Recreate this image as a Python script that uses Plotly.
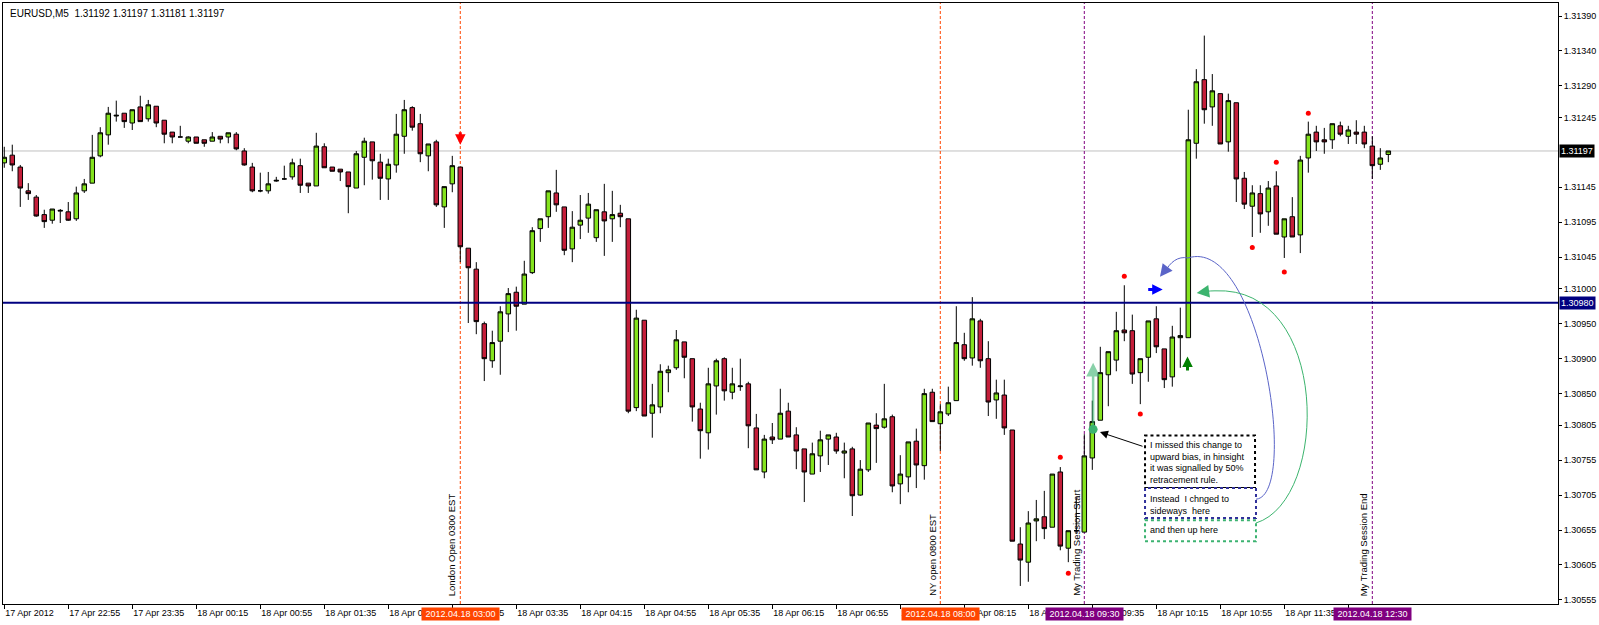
import plotly.graph_objects as go

# EURUSD M5 bars, 17 Apr 2012 22:15 -> 18 Apr 2012 12:40 (one bar per 5 minutes)
bar_open = [
    1.31180, 1.31191, 1.31174, 1.31140, 1.31131, 1.31106, 1.31098, 1.31111, 1.31110, 1.31100,
    1.31140, 1.31151, 1.31190, 1.31220, 1.31247, 1.31251, 1.31237, 1.31260, 1.31243, 1.31261,
    1.31241, 1.31224, 1.31217, 1.31211, 1.31217, 1.31213, 1.31211, 1.31218, 1.31217, 1.31221,
    1.31197, 1.31174, 1.31140, 1.31140, 1.31154, 1.31157, 1.31160, 1.31176, 1.31151, 1.31147,
    1.31203, 1.31174, 1.31171, 1.31167, 1.31144, 1.31188, 1.31210, 1.31181, 1.31157, 1.31177,
    1.31218, 1.31259, 1.31236, 1.31190, 1.31210, 1.31117, 1.31150, 1.31174, 1.31058, 1.31028,
    1.30950, 1.30897, 1.30925, 1.30964, 1.30995, 1.30978, 1.31023, 1.31086, 1.31103, 1.31137,
    1.31117, 1.31057, 1.31091, 1.31101, 1.31073, 1.31110, 1.31100, 1.31108, 1.31100, 1.30830,
    1.30955, 1.30822, 1.30831, 1.30880, 1.30887, 1.30924, 1.30900, 1.30828, 1.30794, 1.30861,
    1.30900, 1.30852, 1.30860, 1.30864, 1.30801, 1.30738, 1.30788, 1.30785, 1.30825, 1.30791,
    1.30771, 1.30735, 1.30761, 1.30785, 1.30788, 1.30765, 1.30771, 1.30705, 1.30741, 1.30805,
    1.30802, 1.30817, 1.30721, 1.30731, 1.30782, 1.30747, 1.30852, 1.30807, 1.30821, 1.30840,
    1.30920, 1.30901, 1.30954, 1.30900, 1.30841, 1.30848, 1.30798, 1.30635, 1.30609, 1.30668,
    1.30674, 1.30659, 1.30738, 1.30629, 1.30654, 1.30652, 1.30758, 1.30812, 1.30877, 1.30898,
    1.30941, 1.30940, 1.30880, 1.30902, 1.30957, 1.30914, 1.30874, 1.30930, 1.30930, 1.31208,
    1.31299, 1.31260, 1.31279, 1.31210, 1.31266, 1.31158, 1.31118, 1.31136, 1.31110, 1.31147,
    1.31074, 1.31103, 1.31077, 1.31187, 1.31224, 1.31213, 1.31213, 1.31233, 1.31218, 1.31224,
    1.31224, 1.31204, 1.31178, 1.31192,
]
bar_high = [
    1.31203, 1.31206, 1.31177, 1.31151, 1.31134, 1.31113, 1.31114, 1.31114, 1.31124, 1.31146,
    1.31157, 1.31220, 1.31231, 1.31260, 1.31269, 1.31251, 1.31256, 1.31276, 1.31270, 1.31261,
    1.31241, 1.31224, 1.31233, 1.31218, 1.31217, 1.31213, 1.31224, 1.31218, 1.31223, 1.31224,
    1.31201, 1.31180, 1.31166, 1.31167, 1.31160, 1.31176, 1.31186, 1.31186, 1.31151, 1.31223,
    1.31208, 1.31174, 1.31171, 1.31167, 1.31197, 1.31216, 1.31210, 1.31193, 1.31186, 1.31250,
    1.31270, 1.31261, 1.31250, 1.31207, 1.31213, 1.31146, 1.31190, 1.31174, 1.31058, 1.31038,
    1.30953, 1.30940, 1.30975, 1.31001, 1.31003, 1.31040, 1.31088, 1.31100, 1.31140, 1.31170,
    1.31117, 1.31111, 1.31134, 1.31137, 1.31113, 1.31150, 1.31140, 1.31120, 1.31100, 1.30970,
    1.30955, 1.30864, 1.30892, 1.30890, 1.30941, 1.30924, 1.30900, 1.30837, 1.30887, 1.30900,
    1.30902, 1.30887, 1.30900, 1.30867, 1.30821, 1.30791, 1.30808, 1.30857, 1.30837, 1.30802,
    1.30771, 1.30780, 1.30797, 1.30791, 1.30794, 1.30780, 1.30774, 1.30755, 1.30808, 1.30822,
    1.30864, 1.30820, 1.30762, 1.30781, 1.30800, 1.30857, 1.30857, 1.30835, 1.30860, 1.30975,
    1.30937, 1.30988, 1.30957, 1.30925, 1.30870, 1.30870, 1.30798, 1.30659, 1.30682, 1.30698,
    1.30711, 1.30735, 1.30745, 1.30654, 1.30702, 1.30792, 1.30840, 1.30917, 1.30910, 1.30967,
    1.31005, 1.30963, 1.30900, 1.30954, 1.30975, 1.30914, 1.30947, 1.30973, 1.31256, 1.31314,
    1.31362, 1.31307, 1.31279, 1.31279, 1.31266, 1.31167, 1.31148, 1.31148, 1.31154, 1.31168,
    1.31100, 1.31131, 1.31190, 1.31239, 1.31233, 1.31230, 1.31236, 1.31239, 1.31233, 1.31241,
    1.31233, 1.31218, 1.31201, 1.31197,
]
bar_low = [
    1.31173, 1.31168, 1.31117, 1.31127, 1.31103, 1.31087, 1.31093, 1.31094, 1.31097, 1.31097,
    1.31137, 1.31151, 1.31188, 1.31206, 1.31239, 1.31230, 1.31227, 1.31239, 1.31239, 1.31231,
    1.31208, 1.31208, 1.31217, 1.31208, 1.31208, 1.31203, 1.31211, 1.31208, 1.31208, 1.31198,
    1.31176, 1.31138, 1.31138, 1.31136, 1.31153, 1.31156, 1.31156, 1.31137, 1.31137, 1.31147,
    1.31173, 1.31168, 1.31154, 1.31108, 1.31144, 1.31148, 1.31156, 1.31127, 1.31127, 1.31166,
    1.31193, 1.31226, 1.31181, 1.31168, 1.31117, 1.31087, 1.31138, 1.31038, 1.30951, 1.30935,
    1.30868, 1.30887, 1.30877, 1.30938, 1.30940, 1.30978, 1.31021, 1.31067, 1.31087, 1.31110,
    1.31048, 1.31038, 1.31071, 1.31080, 1.31067, 1.31047, 1.31067, 1.31088, 1.30822, 1.30825,
    1.30818, 1.30787, 1.30822, 1.30852, 1.30884, 1.30872, 1.30810, 1.30757, 1.30770, 1.30820,
    1.30840, 1.30842, 1.30854, 1.30772, 1.30741, 1.30729, 1.30778, 1.30785, 1.30788, 1.30742,
    1.30695, 1.30735, 1.30738, 1.30748, 1.30764, 1.30729, 1.30675, 1.30704, 1.30738, 1.30751,
    1.30800, 1.30709, 1.30692, 1.30709, 1.30715, 1.30727, 1.30810, 1.30768, 1.30818, 1.30840,
    1.30897, 1.30890, 1.30887, 1.30818, 1.30814, 1.30791, 1.30639, 1.30575, 1.30581, 1.30639,
    1.30642, 1.30659, 1.30626, 1.30609, 1.30651, 1.30652, 1.30741, 1.30812, 1.30832, 1.30882,
    1.30925, 1.30864, 1.30835, 1.30867, 1.30908, 1.30858, 1.30860, 1.30887, 1.30930, 1.31186,
    1.31236, 1.31233, 1.31207, 1.31196, 1.31124, 1.31114, 1.31074, 1.31080, 1.31090, 1.31078,
    1.31044, 1.31074, 1.31051, 1.31166, 1.31197, 1.31193, 1.31200, 1.31218, 1.31207, 1.31207,
    1.31201, 1.31157, 1.31170, 1.31181,
]
bar_close = [
    1.31188, 1.31177, 1.31144, 1.31136, 1.31104, 1.31096, 1.31114, 1.31112, 1.31098, 1.31137,
    1.31150, 1.31188, 1.31223, 1.31251, 1.31248, 1.31239, 1.31256, 1.31239, 1.31263, 1.31237,
    1.31221, 1.31217, 1.31217, 1.31217, 1.31208, 1.31208, 1.31217, 1.31214, 1.31223, 1.31200,
    1.31177, 1.31140, 1.31140, 1.31150, 1.31155, 1.31157, 1.31180, 1.31148, 1.31147, 1.31204,
    1.31173, 1.31168, 1.31167, 1.31146, 1.31193, 1.31211, 1.31183, 1.31158, 1.31178, 1.31221,
    1.31256, 1.31231, 1.31193, 1.31207, 1.31120, 1.31146, 1.31176, 1.31060, 1.31030, 1.30953,
    1.30900, 1.30923, 1.30967, 1.30993, 1.30975, 1.31021, 1.31083, 1.31100, 1.31140, 1.31120,
    1.31055, 1.31088, 1.31098, 1.31121, 1.31113, 1.31097, 1.31106, 1.31103, 1.30825, 1.30958,
    1.30818, 1.30834, 1.30882, 1.30884, 1.30927, 1.30902, 1.30831, 1.30797, 1.30864, 1.30897,
    1.30854, 1.30864, 1.30861, 1.30804, 1.30741, 1.30785, 1.30784, 1.30822, 1.30788, 1.30768,
    1.30738, 1.30764, 1.30784, 1.30791, 1.30768, 1.30768, 1.30704, 1.30742, 1.30808, 1.30800,
    1.30814, 1.30718, 1.30735, 1.30781, 1.30748, 1.30850, 1.30810, 1.30824, 1.30837, 1.30923,
    1.30900, 1.30957, 1.30897, 1.30838, 1.30851, 1.30801, 1.30639, 1.30612, 1.30665, 1.30671,
    1.30657, 1.30735, 1.30632, 1.30654, 1.30654, 1.30761, 1.30810, 1.30880, 1.30910, 1.30940,
    1.30937, 1.30878, 1.30900, 1.30954, 1.30917, 1.30870, 1.30931, 1.30933, 1.31213, 1.31296,
    1.31256, 1.31283, 1.31207, 1.31269, 1.31157, 1.31121, 1.31137, 1.31107, 1.31144, 1.31078,
    1.31100, 1.31074, 1.31184, 1.31221, 1.31210, 1.31210, 1.31236, 1.31221, 1.31227, 1.31221,
    1.31207, 1.31176, 1.31187, 1.31197,
]

# time axis labels (every 8th bar)
tick_bars = [0, 8, 16, 24, 32, 40, 48, 56, 64, 72, 80, 88, 96, 104, 112, 120, 128, 136, 144, 152, 160, 168]
tick_labels = ["17 Apr 2012", "17 Apr 22:55", "17 Apr 23:35", "18 Apr 00:15", "18 Apr 00:55", "18 Apr 01:35",
               "18 Apr 02:15", "18 Apr 02:55", "18 Apr 03:35", "18 Apr 04:15", "18 Apr 04:55", "18 Apr 05:35",
               "18 Apr 06:15", "18 Apr 06:55", "18 Apr 07:35", "18 Apr 08:15", "18 Apr 08:55", "18 Apr 09:35",
               "18 Apr 10:15", "18 Apr 10:55", "18 Apr 11:35", "18 Apr 12:15"]
price_ticks = [1.31390, 1.31340, 1.31290, 1.31245, 1.31145, 1.31095, 1.31045, 1.31000, 1.30950,
               1.30900, 1.30850, 1.30805, 1.30755, 1.30705, 1.30655, 1.30605, 1.30555]

# vertical event lines
event_bars = [57, 117, 135, 171]
event_names = ["London Open 0300 EST", "NY open 0800 EST", "My Trading Session Start", "My Trading Session End"]
event_stamps = ["2012.04.18 03:00", "2012.04.18 08:00", "2012.04.18 09:30", "2012.04.18 12:30"]

level_price = 1.30980
last_price = 1.31197

# red fractal dots
dot_bars = [132, 133, 140, 142, 156, 159, 160, 163]
dot_prices = [1.30759, 1.30593, 1.31018, 1.30821, 1.31059, 1.31181, 1.31024, 1.31251]

BULL = "#84E31E"
BEAR = "#C41E3A"
ORANGE = "#FF4500"
PURPLE = "#800080"
NAVY = "#000080"
FONT = "Liberation Sans"

bars = list(range(len(bar_open)))

fig = go.Figure()
fig.add_trace(go.Candlestick(
    x=bars, open=bar_open, high=bar_high, low=bar_low, close=bar_close,
    increasing=dict(line=dict(color="black", width=1), fillcolor=BULL),
    decreasing=dict(line=dict(color="black", width=1), fillcolor=BEAR),
    whiskerwidth=0, showlegend=False))

fig.add_trace(go.Scatter(x=dot_bars, y=dot_prices, mode="markers",
                         marker=dict(color="red", size=5), showlegend=False))
fig.add_trace(go.Scatter(x=[136.1], y=[1.30799], mode="markers",
                         marker=dict(color="#3CB371", size=9), showlegend=False))

shapes = [
    dict(type="line", xref="paper", x0=0, x1=1, y0=last_price, y1=last_price,
         line=dict(color="#C0C0C0", width=1), layer="below"),
    dict(type="line", xref="paper", x0=0, x1=1, y0=level_price, y1=level_price,
         line=dict(color=NAVY, width=2), layer="above"),
]
for b, c in zip(event_bars, [ORANGE, ORANGE, PURPLE, PURPLE]):
    shapes.append(dict(type="line", x0=b, x1=b, yref="paper", y0=0, y1=1,
                       line=dict(color=c, width=1, dash="3px,2px"), layer="below"))

# note boxes
shapes += [
    dict(type="rect", x0=142.59, x1=156.34, y0=1.30715, y1=1.30790, fillcolor="white",
         line=dict(color="black", width=2, dash="dot")),
    dict(type="rect", x0=142.59, x1=156.46, y0=1.30672, y1=1.30715, fillcolor="white",
         line=dict(color="#30309A", width=2, dash="dot")),
    dict(type="rect", x0=142.59, x1=156.46, y0=1.30639, y1=1.30669, fillcolor="white",
         line=dict(color="#3CB371", width=2, dash="dot")),
]
# curved arrows
shapes += [
    dict(type="path", line=dict(color="#5A64C8", width=1),
         path="M 156.46,1.30699 C 161.96,1.30705 156.96,1.31077 147.96,1.31044 "
              "C 146.71,1.31047 145.71,1.31038 145.09,1.31024"),
    dict(type="path", line=dict(color="#3CB46E", width=1),
         path="M 156.46,1.30665 C 165.71,1.30698 165.71,1.31005 151.34,1.30997 "
              "C 150.6,1.30997 150.0,1.30996 149.6,1.30995"),
]

annotations = [
    dict(xref="paper", yref="paper", x=0, y=1, xshift=5, yshift=-3, xanchor="left", yanchor="top",
         text="EURUSD,M5  1.31192 1.31197 1.31181 1.31197", showarrow=False,
         font=dict(family=FONT, size=10, color="black")),
]
for b, name, stamp, c in zip(event_bars, event_names, event_stamps, [ORANGE, ORANGE, PURPLE, PURPLE]):
    annotations.append(dict(x=b, xref="x", y=0, yref="paper", xanchor="right", yanchor="bottom",
                            xshift=-1, yshift=6, textangle=-90, text=name, showarrow=False,
                            font=dict(family=FONT, size=9.5, color="black")))
    annotations.append(dict(x=b, xref="x", y=0, yref="paper", xanchor="center", yanchor="top",
                            yshift=-3, text="\u00a0" + stamp + "\u00a0", showarrow=False, bgcolor=c,
                            borderpad=1, font=dict(family=FONT, size=9, color="white")))

for price, bg in [(last_price, "black"), (level_price, NAVY)]:
    annotations.append(dict(xref="paper", x=1, y=price, xanchor="left", yanchor="middle", xshift=1,
                            text=f"{price:.5f}", showarrow=False, bgcolor=bg, borderpad=1,
                            font=dict(family=FONT, size=9, color="white")))

note_font = dict(family=FONT, size=9, color="black")
annotations += [
    dict(x=143.0, y=1.30786, xanchor="left", yanchor="top", align="left", showarrow=False, font=note_font,
         text="I missed this change to<br>upward bias, in hinsight<br>it was signalled by 50%<br>retracement rule."),
    dict(x=143.0, y=1.30710, xanchor="left", yanchor="top", align="left", showarrow=False, font=note_font,
         text="Instead  I chnged to<br>sideways  here"),
    dict(x=143.0, y=1.30655, xanchor="left", yanchor="middle", align="left", showarrow=False, font=note_font,
         text="and then up here"),
    # pointer from the note to the missed bar
    dict(x=136.96, y=1.30795, ax=142.46, ay=1.30774, axref="x", ayref="y", text="", showarrow=True,
         arrowhead=2, arrowsize=1.6, arrowwidth=1, arrowcolor="black"),
    # light green bias arrow
    dict(x=136.1, y=1.30894, ax=136.1, ay=1.30799, axref="x", ayref="y", text="", showarrow=True,
         arrowhead=2, arrowsize=1.1, arrowwidth=2.5, arrowcolor="rgba(60,179,113,0.6)"),
    # heads of the curved arrows
    dict(x=144.46, y=1.31017, ax=145.4, ay=1.31031, axref="x", ayref="y", text="", showarrow=True,
         arrowhead=2, arrowsize=2.5, arrowwidth=1, arrowcolor="#5A64C8"),
    dict(x=149.05, y=1.30994, ax=150.3, ay=1.30996, axref="x", ayref="y", text="", showarrow=True,
         arrowhead=2, arrowsize=2.5, arrowwidth=1, arrowcolor="#3CB46E"),
    # signal arrows
    dict(x=57, y=1.31206, ax=57, ay=1.31226, axref="x", ayref="y", text="", showarrow=True,
         arrowhead=2, arrowsize=0.7, arrowwidth=3, arrowcolor="red"),
    dict(x=144.8, y=1.30999, ax=142.8, ay=1.30999, axref="x", ayref="y", text="", showarrow=True,
         arrowhead=2, arrowsize=0.7, arrowwidth=3, arrowcolor="blue"),
    dict(x=147.9, y=1.30903, ax=147.9, ay=1.30881, axref="x", ayref="y", text="", showarrow=True,
         arrowhead=2, arrowsize=0.7, arrowwidth=3, arrowcolor="#008000"),
]

fig.update_layout(
    width=1599, height=625,
    margin=dict(l=3, r=41, t=3, b=21),
    paper_bgcolor="white", plot_bgcolor="white",
    boxgap=0.25, boxgroupgap=0.25,
    showlegend=False,
    shapes=shapes, annotations=annotations,
    font=dict(family=FONT, size=9, color="black"),
    xaxis=dict(range=[-0.16, 194.21], tickmode="array", tickvals=tick_bars, ticktext=tick_labels,
               ticklabelposition="outside right", ticks="outside", ticklen=4, tickcolor="black",
               showline=True, mirror=True, linecolor="black", linewidth=1,
               showgrid=False, zeroline=False, rangeslider=dict(visible=False),
               tickfont=dict(family=FONT, size=9, color="black")),
    yaxis=dict(side="right", range=[1.305492, 1.314086], tickmode="array", tickvals=price_ticks,
               ticktext=[f"{p:.5f}" for p in price_ticks], ticks="outside", ticklen=3, tickcolor="black",
               showline=True, mirror=True, linecolor="black", linewidth=1,
               showgrid=False, zeroline=False,
               tickfont=dict(family=FONT, size=9, color="black")),
)

fig.write_html("out.html", config={"displayModeBar": False},
               post_script="document.body.style.margin='0';")
